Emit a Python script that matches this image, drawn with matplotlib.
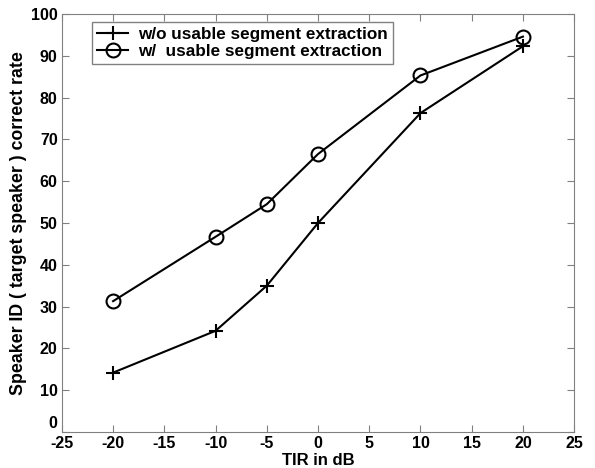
import matplotlib
matplotlib.use("Agg")
import matplotlib.pyplot as plt
import matplotlib.transforms as mtransforms

# Data
tir_db     = [-20, -10, -5, 0, 10, 20]
rate_wo    = [14.2, 24.2, 35.0, 50.0, 76.3, 92.3]
rate_w     = [31.3, 46.7, 54.5, 66.5, 85.3, 94.6]
x_ticks    = list(range(-25, 26, 5))
y_ticks    = list(range(0, 101, 10))

plt.rcParams['font.family'] = ['Liberation Sans', 'DejaVu Sans']
plt.rcParams['font.weight'] = 'bold'
plt.rcParams['axes.unicode_minus'] = False

fig = plt.figure(figsize=(5.95, 4.68), dpi=100)
ax = fig.add_axes([0.104, 0.077, 0.861, 0.893])

ax.plot(tir_db, rate_wo, color="black", lw=1.5, marker="+", ms=10, mew=1.5,
        label="w/o usable segment extraction")
ax.plot(tir_db, rate_w, color="black", lw=1.5, marker="o", ms=10, mew=1.5,
        mfc="none", label="w/  usable segment extraction")

# MATLAB Style Axes
ax.set_xlim(-25, 25)
ax.set_ylim(0, 100)
ax.set_xticks(x_ticks)
ax.set_yticks(y_ticks)
ax.tick_params(direction="in", top=True, right=True, labelsize=11.5, length=5, color="#808080", pad=3)
for sp in ax.spines.values():
    sp.set_color("#808080")
ax.set_xlabel("TIR in dB", fontsize=12, fontweight="bold", labelpad=1)
ax.set_ylabel("Speaker ID ( target speaker ) correct rate", fontsize=12.8, fontweight="bold", labelpad=3)

# Raise The "0" Label Like MATLAB Does So It Clears The "-25"
zero_lbl = ax.get_yticklabels()[0]
zero_lbl.set_transform(zero_lbl.get_transform() + mtransforms.ScaledTranslation(0, 7 / 72, fig.dpi_scale_trans))

leg = ax.legend(loc="upper left", bbox_to_anchor=(0.059, 0.981), fontsize=12.3, fancybox=False,
                edgecolor="#808080", framealpha=1, handlelength=1.8, handletextpad=0.6,
                borderpad=0.3, borderaxespad=0, labelspacing=0.12)
leg.get_frame().set_linewidth(1.0)

plt.savefig("out.png", dpi=100)
